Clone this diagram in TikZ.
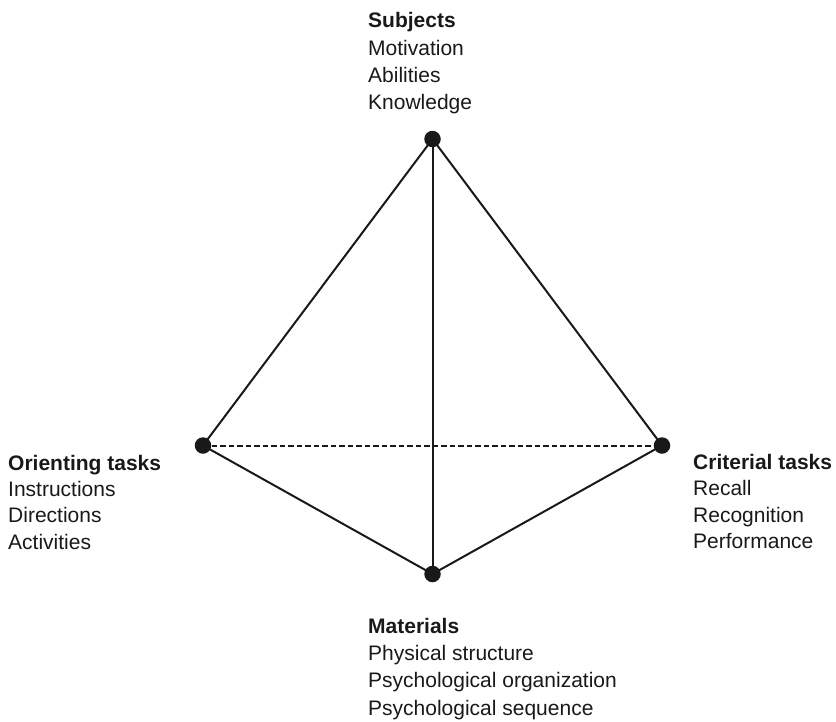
\documentclass[tikz,border=0pt]{standalone}
\usepackage{fontspec}
\setmainfont{Liberation Sans}
\begin{document}
\begin{tikzpicture}[x=1pt,y=-1pt,
  lbl/.style={anchor=base west, inner sep=0pt, font=\fontsize{21}{27}\selectfont, text=black!90},
  hd/.style={lbl, font=\fontsize{21}{27}\selectfont\bfseries},
  vtx/.style={circle, fill=black!90, inner sep=0pt, minimum size=16.5pt},
  edge/.style={line width=2pt, draw=black!90},
  hidden/.style={line width=2pt, draw=black!90, dash pattern=on 5.5pt off 3pt}]
\useasboundingbox (0,0) rectangle (836,721);
% vertices
\coordinate (T) at (432.5,139);
\coordinate (L) at (203,445.5);
\coordinate (R) at (662,445.5);
\coordinate (B) at (432.5,574);
% edges
\draw[hidden] (L) -- (R);
\draw[edge] (T) -- (L);
\draw[edge] (T) -- (R);
\draw[edge] (T) -- (B);
\draw[edge] (L) -- (B);
\draw[edge] (R) -- (B);
\node[vtx] (vT) at (T) {};
\node[vtx] (vL) at (L) {};
\node[vtx] (vR) at (R) {};
\node[vtx] (vB) at (B) {};
% top label
\node[hd]  (s0) at (368,27.5) {Subjects};
\node[lbl] (s1) at (368,55) {Motivation};
\node[lbl] (s2) at (368,82) {Abilities};
\node[lbl] (s3) at (368,109.5) {Knowledge};
% left label
\node[hd]  (o0) at (8,470) {Orienting tasks};
\node[lbl] (o1) at (8,496) {Instructions};
\node[lbl] (o2) at (8,522.5) {Directions};
\node[lbl] (o3) at (8,549) {Activities};
% right label
\node[hd]  (c0) at (693,469.5) {Criterial tasks};
\node[lbl] (c1) at (693,495.5) {Recall};
\node[lbl] (c2) at (693,522) {Recognition};
\node[lbl] (c3) at (693,548.5) {Performance};
% bottom label
\node[hd]  (m0) at (368,633) {Materials};
\node[lbl] (m1) at (368,660) {Physical structure};
\node[lbl] (m2) at (368,687.5) {Psychological organization};
\node[lbl] (m3) at (368,715) {Psychological sequence};
\end{tikzpicture}
\end{document}
